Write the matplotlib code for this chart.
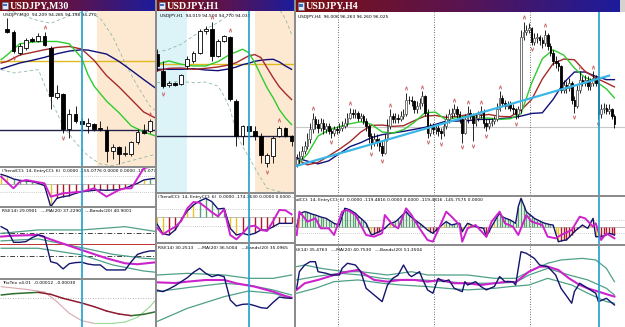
import numpy as np
import matplotlib
matplotlib.use("Agg")
import matplotlib.pyplot as plt
from matplotlib.patches import Rectangle
from matplotlib.colors import LinearSegmentedColormap

# ======================= DATA =======================
# ---- USDJPY M30 ----
m30_open = [94.824, 94.81, 94.68, 94.71, 94.764, 94.75, 94.784, 94.71, 94.416, 94.434, 94.22, 94.314,
            94.27, 94.24, 94.25, 94.23, 94.216, 94.09, 94.11, 94.07, 94.07, 94.14, 94.21, 94.21]
m30_close = [94.81, 94.69, 94.72, 94.76, 94.75, 94.784, 94.73, 94.42, 94.436, 94.22, 94.31, 94.27,
             94.25, 94.26, 94.224, 94.22, 94.09, 94.11, 94.07, 94.074, 94.14, 94.206, 94.20, 94.27]
m30_high = [94.89, 94.82, 94.74, 94.77, 94.774, 94.80, 94.81, 94.72, 94.49, 94.44, 94.34, 94.36,
            94.29, 94.29, 94.26, 94.27, 94.24, 94.13, 94.12, 94.12, 94.15, 94.22, 94.25, 94.28]
m30_low = [94.80, 94.68, 94.67, 94.70, 94.744, 94.744, 94.72, 94.34, 94.40, 94.20, 94.17, 94.26,
           94.21, 94.20, 94.21, 94.21, 94.02, 94.04, 94.01, 94.06, 94.06, 94.13, 94.19, 94.20]
m30_frac_up = [6, 23]
m30_frac_dn = [1, 9, 18]
m30_ma_x = [-1, 0, 2, 4, 6, 8, 10, 12, 13, 14, 16, 18, 20, 22, 24]
m30_ma_fast = [94.64, 94.67, 94.736, 94.746, 94.75, 94.75, 94.736, 94.65, 94.55, 94.48, 94.39, 94.32, 94.24, 94.204, 94.178]
m30_ma_mid = [94.62, 94.63, 94.668, 94.684, 94.70, 94.714, 94.72, 94.704, 94.67, 94.636, 94.544, 94.476, 94.40, 94.324, 94.286]
m30_ma_slow = [94.584, 94.596, 94.62, 94.636, 94.654, 94.676, 94.692, 94.70, 94.698, 94.69, 94.674, 94.63, 94.576, 94.52, 94.466]
m30_band_x = [-1, 1, 3, 5, 7, 9, 11, 13, 15, 17, 19, 21, 23, 24]
m30_band_up = [94.94, 94.93, 94.90, 94.876, 94.86, 94.89, 94.92, 94.93, 94.89, 94.78, 94.62, 94.48, 94.36, 94.33]
m30_band_lo = [94.58, 94.56, 94.57, 94.58, 94.40, 94.24, 94.14, 94.06, 94.01, 94.00, 94.02, 94.04, 94.06, 94.07]
m30_level_gold = 94.63
m30_level_navy = 94.214
m30_session_start = 14.5
m30_sync = 12.0
m30_cci_x = list(range(-1, 25))
m30_cci = [116, 92, 60, 44, 36, 28, 8, -20, -272, -172, -152, -140, -112, -92, -84, -76, -72, -76, -72,
           -68, -52, -20, 8, 48, 60, 68]
m30_ent_x = [-1, 1, 2, 3, 6, 7, 9, 12, 14, 16, 18, 19, 20, 22, 24]
m30_ent = [88, -52, 28, 48, 8, -152, -112, -92, -52, -152, -72, -52, -52, 188, 228]
m30_rsi_x = list(range(-1, 25))
m30_rsi = [65.1, 62.3, 51.7, 51.7, 52.3, 55.7, 58.0, 56.6, 35.1, 33.7, 28.9, 33.4, 34.3, 34.6, 33.1, 32.3,
           32.3, 28.0, 28.0, 28.0, 28.0, 35.1, 41.4, 43.1, 44.3, 44.3]
m30_rma_x = [-1, 1, 5, 8, 12, 16, 19, 21, 24]
m30_rma = [56.6, 57.4, 58.0, 52.3, 45.1, 38.0, 33.7, 32.9, 34.6]
m30_bu_x = [-1, 5, 12, 19, 24]
m30_bu = [59.4, 62.3, 62.3, 65.1, 60.9]
m30_bm_x = [-1, 5, 12, 17, 22, 24]
m30_bm = [52.9, 54.6, 47.1, 41.4, 38.0, 37.4]
m30_bl_x = [-1, 5, 12, 17, 22, 24]
m30_bl = [46.6, 46.6, 40.9, 32.3, 27.1, 26.0]
m30_trix_x = [-1, 1, 5, 7, 9, 12, 14, 16, 18, 20, 22, 24]
m30_trix = [0.00008, 0.00012, 0.00016, 0.00010, -0.00002, -0.00016, -0.00027, -0.00040, -0.00049,
            -0.00054, -0.00050, -0.00042]
m30_trix2_x = [-1, 3, 6, 8, 10, 12, 14, 17, 19, 21, 23, 24]
m30_trix2 = [0.00033, 0.00025, 0.00017, -0.00012, -0.00047, -0.00069, -0.00077, -0.00077, -0.00073,
             -0.00059, -0.00027, -0.00005]

# ---- USDJPY H1 ----
h1_open = [94.67, 94.57, 94.484, 94.50, 94.49, 94.60, 94.63, 94.68, 94.81, 94.82, 94.66, 94.75,
           94.77, 94.39, 94.18, 94.24, 94.21, 94.18, 94.02, 94.06, 94.18, 94.23, 94.18]
h1_close = [94.60, 94.48, 94.50, 94.488, 94.544, 94.64, 94.68, 94.81, 94.82, 94.66, 94.75, 94.776,
            94.40, 94.18, 94.24, 94.21, 94.18, 94.07, 94.07, 94.17, 94.23, 94.18, 94.15]
h1_high = [94.70, 94.63, 94.51, 94.506, 94.55, 94.66, 94.69, 94.82, 94.84, 94.86, 94.76, 94.784,
           94.78, 94.40, 94.25, 94.244, 94.24, 94.20, 94.08, 94.18, 94.24, 94.234, 94.19]
h1_low = [94.57, 94.47, 94.476, 94.48, 94.484, 94.58, 94.62, 94.67, 94.79, 94.63, 94.656, 94.744,
          94.39, 94.12, 94.13, 94.204, 94.16, 94.02, 94.00, 94.02, 94.176, 94.176, 94.12]
h1_frac_up = [9, 12, 20]
h1_frac_dn = [1, 18]
h1_ma_x = [0, 2, 4, 6, 8, 10, 12, 13, 14, 15, 16, 17, 18, 19, 20, 21, 22]
h1_ma_fast = [94.61, 94.63, 94.61, 94.60, 94.60, 94.626, 94.67, 94.684, 94.70, 94.68, 94.62, 94.544,
              94.47, 94.41, 94.34, 94.29, 94.25]
h1_ma_mid = [94.57, 94.586, 94.588, 94.58, 94.586, 94.594, 94.608, 94.62, 94.64, 94.66, 94.668, 94.65,
             94.59, 94.53, 94.476, 94.436, 94.40]
h1_ma_slow = [94.58, 94.58, 94.58, 94.584, 94.576, 94.572, 94.584, 94.594, 94.608, 94.616, 94.628,
              94.634, 94.638, 94.64, 94.624, 94.60, 94.58]
h1_bu_x = [0, 2, 4, 6, 8, 10, 12, 13, 14, 16, 18, 20, 21, 22]
h1_band_up = [94.68, 94.70, 94.73, 94.78, 94.82, 94.86, 94.91, 94.94, 94.97, 94.99, 94.98, 94.94, 94.88, 94.79]
h1_bl_x = [0, 2, 4, 6, 8, 10, 11, 12, 13, 14, 15, 16, 17, 18, 20, 22]
h1_band_lo = [94.50, 94.504, 94.508, 94.50, 94.504, 94.48, 94.42, 94.34, 94.20, 94.12, 94.06, 93.992,
              93.93, 93.87, 93.85, 93.84]
h1_level_gold = 94.61
h1_level_navy = 94.18
h1_asia_end = 5.0
h1_session_start = 16.0
h1_sync = 15.0
h1_cci = [-72, -196, -212, -152, -32, 76, 148, 196, 228, 188, 100, 108, -132, -212, -192, -212, -192,
          -152, -152, -112, -72, -72, -72]
h1_ent = [-120, -204, -156, -116, -44, 108, 184, 176, 120, 60, 12, 96, -212, -264, -192, -112, -100,
          -152, -164, -44, 88, 84, 36]
h1_rsi = [43.0, 42.0, 43.6, 45.6, 48.0, 50.4, 53.6, 56.0, 53.0, 51.0, 52.0, 51.0, 37.0, 33.4, 34.4,
          34.6, 33.6, 32.4, 32.0, 35.6, 38.8, 38.2, 38.0]
h1_rma_x = [0, 3, 5, 8, 11, 13, 16, 19, 21, 22]
h1_rma = [47.6, 47.2, 48.0, 49.0, 49.0, 47.0, 45.0, 42.0, 39.4, 38.4]
h1_bx = [0, 5, 11, 15, 19, 22]
h1_bu = [52.0, 53.0, 52.0, 50.0, 50.0, 52.0]
h1_bm = [42.0, 44.4, 47.0, 46.0, 43.0, 40.0]
h1_bl = [24.0, 32.0, 39.0, 42.4, 41.0, 38.0]

# ---- USDJPY H4 ----
h4_first_open = 95.05
h4_close = [95.20, 95.30, 95.45, 95.60, 95.80, 96.10, 96.40, 96.25, 96.15, 96.30,
            96.10, 96.20, 96.05, 96.00, 96.10, 96.08, 96.15, 96.20, 96.30, 96.45,
            96.60, 96.55, 96.60, 96.45, 96.50, 96.35, 96.20, 95.90, 95.70, 95.80,
            95.75, 95.60, 95.40, 95.80, 96.20, 96.50, 96.40, 96.45, 96.40, 96.50,
            96.55, 97.00, 97.00, 96.95, 96.70, 96.80, 96.90, 97.10, 96.60, 96.00,
            96.20, 96.10, 96.15, 96.05, 96.00, 96.20, 96.40, 96.55, 96.60, 96.70,
            96.55, 96.40, 96.00, 96.40, 96.60, 96.50, 96.30, 96.45, 96.55, 96.65,
            96.30, 96.20, 96.30, 96.35, 96.40, 96.70, 97.05, 96.90, 96.80, 96.85,
            96.75, 96.70, 96.55, 96.70, 98.90, 99.05, 99.10, 99.15, 98.75, 98.85,
            98.90, 98.80, 98.70, 98.95, 98.60, 98.40, 98.15, 98.10, 98.00, 97.30,
            97.45, 97.35, 97.50, 97.00, 96.80, 97.30, 97.60, 97.50, 97.60, 97.40,
            97.50, 97.65, 97.50, 96.55, 96.70, 96.75, 96.65, 96.70, 96.50, 96.25]
h4_high = [95.35, 95.45, 95.60, 95.75, 96.00, 96.30, 96.60, 96.50, 96.40, 96.45,
           96.40, 96.30, 96.30, 96.15, 96.20, 96.20, 96.30, 96.35, 96.45, 96.60,
           96.75, 96.70, 96.70, 96.65, 96.60, 96.55, 96.45, 96.25, 96.00, 96.00,
           95.95, 95.85, 95.75, 95.95, 96.40, 96.70, 96.60, 96.60, 96.55, 96.65,
           96.70, 97.20, 97.10, 97.10, 97.00, 96.95, 97.05, 97.25, 97.15, 96.70,
           96.30, 96.30, 96.25, 96.25, 96.15, 96.35, 96.55, 96.70, 96.75, 96.85,
           96.80, 96.65, 96.50, 96.55, 96.80, 96.70, 96.60, 96.55, 96.65, 96.80,
           96.70, 96.40, 96.40, 96.45, 96.50, 96.90, 97.25, 97.15, 97.00, 96.95,
           96.95, 96.85, 96.75, 96.80, 99.10, 99.35, 99.25, 99.30, 99.20, 99.00,
           99.00, 98.95, 98.90, 99.10, 99.00, 98.70, 98.50, 98.30, 98.20, 98.05,
           97.60, 97.55, 97.65, 97.55, 97.10, 97.45, 97.85, 97.70, 97.75, 97.70,
           97.65, 97.85, 97.75, 97.60, 96.85, 96.90, 96.85, 96.85, 96.75, 96.55]
h4_low = [94.95, 95.05, 95.20, 95.35, 95.50, 95.70, 96.00, 96.10, 96.00, 96.05,
          95.95, 96.00, 95.95, 95.85, 95.90, 95.95, 96.00, 96.05, 96.15, 96.20,
          96.40, 96.45, 96.45, 96.35, 96.35, 96.25, 96.05, 95.70, 95.50, 95.60,
          95.60, 95.45, 95.30, 95.35, 95.75, 96.10, 96.30, 96.30, 96.30, 96.35,
          96.40, 96.50, 96.85, 96.80, 96.60, 96.60, 96.70, 96.80, 96.50, 95.85,
          95.90, 95.95, 95.95, 95.90, 95.80, 95.90, 96.10, 96.30, 96.45, 96.50,
          96.45, 96.30, 95.70, 95.95, 96.30, 96.40, 95.75, 96.20, 96.35, 96.45,
          96.15, 96.05, 96.10, 96.20, 96.25, 96.35, 96.65, 96.80, 96.70, 96.70,
          96.65, 96.55, 96.40, 96.45, 96.60, 98.80, 98.95, 99.00, 98.65, 98.65,
          98.70, 98.65, 98.55, 98.60, 98.50, 98.30, 98.05, 97.95, 97.85, 97.20,
          97.20, 97.20, 97.25, 96.85, 96.60, 96.75, 97.20, 97.40, 97.40, 97.30,
          97.30, 97.40, 97.40, 96.40, 96.45, 96.60, 96.55, 96.55, 96.40, 96.15]
h4_frac_up = [6, 20, 35, 41, 47, 59, 64, 69, 76, 85, 93, 106, 111]
h4_frac_dn = [13, 28, 32, 49, 54, 62, 66, 71, 82, 88, 104, 113]
h4_ma_x = list(range(0, 117, 4)) + [119]
h4_ma_fast = [95.02, 95.35, 95.90, 96.08, 96.18, 96.27, 96.33, 96.25, 96.02, 95.99, 96.09, 96.31, 96.60,
              96.62, 96.38, 96.46, 96.49, 96.45, 96.44, 96.40, 96.42, 96.57, 97.50, 98.23, 98.50, 98.34,
              97.95, 97.66, 97.55, 97.32, 97.05]
h4_ma_mid = [95.19, 95.03, 95.10, 95.30, 95.50, 95.73, 96.02, 96.22, 96.23, 96.19, 96.21, 96.36, 96.50,
             96.52, 96.46, 96.49, 96.54, 96.51, 96.55, 96.49, 96.48, 96.68, 97.00, 97.62, 98.08, 98.22,
             98.20, 97.85, 97.65, 97.50, 97.38]
h4_ma_slow = [95.24, 95.14, 95.06, 95.15, 95.37, 95.58, 95.70, 95.85, 95.94, 95.99, 96.04, 96.10, 96.16,
              96.25, 96.35, 96.35, 96.36, 96.40, 96.40, 96.42, 96.45, 96.50, 96.58, 96.60, 97.00, 97.50,
              97.83, 97.83, 97.70, 97.60, 97.60]
h4_trend_x = [0, 117]
h4_trend_y = [95.00, 97.72]
h4_level_grey = 96.17
h4_week_seps = [15.5, 51.5, 87.5]
h4_sync = 113.2
h4_cci = [0, 175, 210, 225, 215, 200, 185, 175, 160, 145,
          135, 125, 100, 75, 50, 35, 25, 150, 275, 265,
          250, 225, 200, 160, 125, 90, 50, -40, -125, -110,
          -90, -75, -50, -25, 15, 50, 60, 75, 110, 150,
          190, 225, 175, 140, 110, 80, 50, 20, -15, -50,
          -75, -100, -60, -25, 10, 45, 75, 50, 25, 35,
          45, 50, -75, -10, 50, 35, 15, 0, -10, -15,
          -25, -150, -75, 0, 70, 140, 200, 150, 130, 115,
          100, 75, 50, 300, 425, 330, 225, 190, 160, 125,
          105, 85, 65, 50, 40, 30, 25, -100, -225, -215,
          -205, -200, -160, -120, -75, -40, -10, 25, 0, -25,
          50, 125, -150, -150, -150, -135, -120, -100, -110, -125]
h4_ent_x = [0, 1, 4, 7, 9, 12, 14, 17, 19, 22, 24, 26, 29, 32, 33, 36, 38, 41, 43, 46, 49, 51, 53, 56, 58,
            61, 62, 64, 67, 71, 73, 76, 78, 81, 83, 86, 88, 92, 94, 97, 99, 103, 106, 108, 111, 112, 114,
            116, 119]
h4_ent = [-125, 225, 75, 125, -25, -25, -125, 225, 250, 175, 25, -125, -150, -100, 175, 25, -25, 275,
          175, -25, -200, -225, -50, 225, 150, 25, -225, -25, 25, -150, 75, 225, 50, 0, -125, 175, 75,
          25, -150, -175, -125, -50, 150, 125, 0, 50, -200, -100, -175]
h4_rsi_x = [0, 1, 3, 5, 7, 8, 11, 13, 16, 17, 19, 22, 24, 26, 29, 32, 34, 36, 38, 40, 42, 43, 46, 47, 49,
            51, 53, 55, 57, 59, 62, 63, 64, 67, 69, 71, 74, 76, 78, 81, 82, 84, 86, 89, 91, 94, 97, 99,
            103, 104, 106, 108, 111, 112, 113, 116, 119]
h4_rsi = [46.3, 56.8, 61.0, 63.1, 63.1, 56.8, 55.8, 54.7, 54.7, 58.9, 62.1, 61.0, 56.8, 46.3, 42.1, 37.9,
          48.4, 52.6, 54.7, 61.0, 55.0, 53.7, 56.8, 52.6, 45.3, 43.2, 52.6, 50.5, 51.6, 46.3, 44.2, 50.5,
          48.4, 50.5, 47.4, 45.3, 47.4, 53.7, 50.5, 50.5, 48.4, 69.4, 68.4, 65.2, 61.0, 60.0, 54.7, 46.3,
          36.9, 44.2, 49.5, 47.4, 44.2, 43.2, 37.9, 40.0, 35.8]
h4_rma_x = [0, 3, 8, 14, 19, 23, 26, 29, 34, 39, 44, 49, 54, 59, 64, 69, 74, 79, 82, 87, 91, 94, 98, 102,
            106, 109, 113, 117, 119]
h4_rma = [45.3, 49.5, 51.6, 54.7, 56.8, 57.9, 54.7, 51.6, 50.5, 51.6, 51.6, 50.5, 51.6, 49.5, 49.5, 48.4,
          49.5, 50.5, 50.1, 56.8, 60.0, 60.0, 57.9, 52.6, 48.4, 46.3, 44.2, 42.1, 41.1]
h4_bu_x = [0, 3, 9, 18, 24, 34, 43, 49, 56, 64, 74, 82, 87, 94, 99, 107, 112, 116, 119]
h4_bu = [60.0, 61.0, 58.9, 56.8, 56.8, 54.7, 56.8, 54.7, 54.7, 54.7, 52.6, 52.6, 56.8, 62.1, 64.2, 65.2,
         64.2, 58.9, 50.5]
h4_bm_x = [0, 7, 16, 24, 32, 39, 47, 56, 64, 74, 82, 87, 94, 102, 109, 116, 119]
h4_bm = [51.6, 53.7, 55.8, 54.7, 52.6, 51.6, 51.6, 50.5, 49.5, 49.5, 50.1, 54.7, 58.9, 54.7, 51.6, 46.3, 42.1]
h4_bl_x = [0, 7, 14, 23, 32, 39, 49, 56, 64, 74, 80, 87, 94, 103, 109, 116, 119]
h4_bl = [43.2, 46.3, 50.5, 51.6, 49.5, 48.4, 47.4, 46.3, 45.3, 46.3, 47.4, 48.4, 52.6, 48.4, 43.2, 37.9, 36.9]

# ======================= STYLE / LAYOUT =======================
W, H = 625, 327
fig = plt.figure(figsize=(W / 100, H / 100), dpi=100)
fig.patch.set_facecolor('#8c8c8c')

C_FAST = '#2ecc2e'
C_MID = '#a52a2a'
C_SLOW = '#10107a'
C_SYNC = '#1e9fd0'
C_MAG = '#cc22cc'
C_NAVY = '#14146e'
C_BAND = '#4fa087'
C_PEACH = '#fde9d2'
C_CYAN = '#dcf4f8'
C_GREEN_H = '#5aa070'
C_RED_H = '#b01828'
C_YEL_H = '#e8c228'
C_FRAC = '#c85a5e'
SMALL = 3.2

title_cmap = LinearSegmentedColormap.from_list('tb', ['#7d1010', '#5a1450', '#1c1c9c'])


def pane(x0, y0, x1, y1, xlim, ylim):
    ax = fig.add_axes([x0 / W, 1 - y1 / H, (x1 - x0) / W, (y1 - y0) / H])
    ax.set_facecolor('white')
    ax.set_xlim(*xlim)
    ax.set_ylim(*ylim)
    ax.set_xticks([])
    ax.set_yticks([])
    for s in ax.spines.values():
        s.set_visible(False)
    return ax


def title_bar(x0, y0, x1, y1, text):
    ax = fig.add_axes([x0 / W, 1 - y1 / H, (x1 - x0) / W, (y1 - y0) / H])
    ax.imshow(np.linspace(0, 1, 256)[None, :], cmap=title_cmap, aspect='auto', extent=(0, 1, 0, 1))
    ax.set_xlim(0, 1)
    ax.set_ylim(0, 1)
    ax.axis('off')
    w = x1 - x0
    ax.add_patch(Rectangle((2 / w, 0.18), 6 / w, 0.64, facecolor='#dfe8f5', edgecolor='#6070a0', lw=0.4))
    ax.add_patch(Rectangle((3 / w, 0.45), 4 / w, 0.2, facecolor='#3a70c0', lw=0))
    ax.text(10 / w, 0.47, text, color='white', fontsize=7.2, fontweight='bold',
            family='Liberation Serif', va='center', ha='left')
    return ax


def candles(ax, o, h, l, c, width, up_edge='black'):
    for i, (oi, hi, li, ci) in enumerate(zip(o, h, l, c)):
        ax.plot([i, i], [li, hi], color='black', lw=0.6, zorder=3, solid_capstyle='butt')
        lo_, top = min(oi, ci), max(oi, ci)
        up = ci > oi
        ax.add_patch(Rectangle((i - width / 2, lo_), width, max(top - lo_, 1e-6),
                               facecolor='white' if up else 'black',
                               edgecolor=up_edge if up else 'black', lw=0.6, zorder=4))


def fractals(ax, h, l, ups, dns, off):
    ax.scatter(ups, [h[i] + off for i in ups], marker=r'$\wedge$', s=6, color=C_FRAC,
               linewidths=0.2, zorder=6)
    ax.scatter(dns, [l[i] - off for i in dns], marker=r'$\vee$', s=6, color=C_FRAC,
               linewidths=0.2, zorder=6)


def woodie_colors(vals):
    cols, run, prev = [], 0, None
    for v in vals:
        s = v >= 0
        run = run + 1 if s == prev else 1
        prev = s
        cols.append(C_YEL_H if run <= 2 else (C_GREEN_H if s else C_RED_H))
    return cols


def cci_pane(ax, x, vals, ex, ev, header, hx):
    ax.axhline(0, color='#a0a0a0', lw=0.5)
    for lv in (100, -100):
        ax.axhline(lv, color='#9a9a9a', lw=0.5, ls=(0, (1, 2)))
    ax.vlines(x, 0, vals, colors=woodie_colors(vals), lw=1.0, zorder=2)
    ax.plot(x, vals, color=C_NAVY, lw=1.0, zorder=3)
    ax.plot(ex, ev, color=C_MAG, lw=1.4, zorder=4)
    ax.text(hx, 0.97, header, transform=ax.transAxes, fontsize=SMALL, va='top', ha='left', clip_on=True)


def rsi_pane(ax, x, r, mx, m, bands, header, hx, levels=None):
    if levels:
        for lv, col, ls in levels:
            ax.axhline(lv, color=col, lw=0.7, ls=ls)
    for bx, bv in bands:
        ax.plot(bx, bv, color=C_BAND, lw=0.9, zorder=2)
    ax.plot(mx, m, color=C_MAG, lw=1.5, zorder=3)
    ax.plot(x, r, color=C_NAVY, lw=1.0, zorder=4)
    ax.text(hx, 0.98, header, transform=ax.transAxes, fontsize=SMALL, va='top', ha='left', clip_on=True)


def slope_line(ax, x, y, up_col, dn_col, lw):
    for i in range(len(x) - 1):
        col = up_col if y[i + 1] >= y[i] else dn_col
        ax.plot(x[i:i + 2], y[i:i + 2], color=col, lw=lw, solid_capstyle='round')


# ======================= WINDOW 1 : M30 =======================
m30_xlim = (-1.18, 23.82)
title_bar(0, 0, 155, 11, 'USDJPY,M30')
ax = pane(0, 11, 155, 166, m30_xlim, (93.998, 94.934))
ax.axvspan(m30_session_start, m30_xlim[1], color=C_PEACH, lw=0, zorder=0)
ax.axhline(m30_level_gold, color='#e0b820', lw=1.0, zorder=1)
ax.axhline(m30_level_navy, color='#22224a', lw=1.0, zorder=1)
ax.plot(m30_band_x, m30_band_up, color='#8fb8a8', lw=0.6, ls=(0, (4, 3)), zorder=1)
ax.plot(m30_band_x, m30_band_lo, color='#8fb8a8', lw=0.6, ls=(0, (4, 3)), zorder=1)
ax.plot(m30_ma_x, m30_ma_slow, color=C_SLOW, lw=1.0, zorder=2)
ax.plot(m30_ma_x, m30_ma_mid, color=C_MID, lw=1.0, zorder=2)
ax.plot(m30_ma_x, m30_ma_fast, color=C_FAST, lw=1.0, zorder=2)
candles(ax, m30_open, m30_high, m30_low, m30_close, 0.62)
fractals(ax, m30_high, m30_low, m30_frac_up, m30_frac_dn, 0.03)
ax.axvline(m30_sync, color=C_SYNC, lw=1.2, zorder=7)
ax.text(0.02, 0.985, 'USDJPY,M30  94.209 94.285 94.198 94.270', transform=ax.transAxes,
        fontsize=SMALL, va='top')

ax = pane(0, 168, 155, 206, m30_xlim, (-264, 192))
cci_pane(ax, m30_cci_x, m30_cci, m30_ent_x, m30_ent,
         '(TrendCCI: 14, EntryCCI: 6)  0.0000 -155.0776 0.0000 0.0000 -155.0776 -126.8912 0.0000', 0.01)
ax.axvline(m30_sync, color=C_SYNC, lw=1.2, zorder=7)

ax = pane(0, 208, 155, 278, m30_xlim, (21.1, 81.1))
rsi_pane(ax, m30_rsi_x, m30_rsi, m30_rma_x, m30_rma,
         [(m30_bu_x, m30_bu), (m30_bm_x, m30_bm), (m30_bl_x, m30_bl)],
         'RSI(14) 29.0901   ---MA(20) 37.2290   ---Bands(20) 40.9001', 0.01,
         levels=[(50, '#c03030', '-'), (60, '#404040', (0, (5, 2, 1, 2))), (40, '#404040', (0, (5, 2, 1, 2)))])
ax.axvline(m30_sync, color=C_SYNC, lw=1.2, zorder=7)

ax = pane(0, 280, 155, 327, m30_xlim, (-0.00088, 0.00053))
ax.axhline(0, color='#a0a0a0', lw=0.6, ls=(0, (1, 2)))
slope_line(ax, m30_trix2_x, m30_trix2, '#98d898', '#d8a8b0', 0.8)
slope_line(ax, m30_trix_x, m30_trix, '#2e6e2e', '#8e1a2e', 1.1)
ax.text(0.01, 0.97, 'TrixTrix v4.01  -0.00012  -0.00030', transform=ax.transAxes, fontsize=SMALL, va='top')
ax.axvline(m30_sync, color=C_SYNC, lw=1.2, zorder=7)

# ======================= WINDOW 2 : H1 =======================
h1_xlim = (0.05, 22.4)
title_bar(157, 0, 294, 11, 'USDJPY,H1')
ax = pane(157, 11, 294, 192, h1_xlim, (93.848, 94.928))
ax.axvspan(h1_xlim[0], h1_asia_end, color=C_CYAN, lw=0, zorder=0)
ax.axvspan(h1_session_start, h1_xlim[1], color=C_PEACH, lw=0, zorder=0)
ax.axhline(h1_level_gold, color='#e0b820', lw=1.0, zorder=1)
ax.axhline(h1_level_navy, color='#22224a', lw=1.0, zorder=1)
ax.plot(h1_bu_x, h1_band_up, color='#8fb8a8', lw=0.6, ls=(0, (4, 3)), zorder=1)
ax.plot(h1_bl_x, h1_band_lo, color='#8fb8a8', lw=0.6, ls=(0, (4, 3)), zorder=1)
ax.plot(h1_ma_x, h1_ma_slow, color=C_SLOW, lw=1.0, zorder=2)
ax.plot(h1_ma_x, h1_ma_mid, color=C_MID, lw=1.0, zorder=2)
ax.plot(h1_ma_x, h1_ma_fast, color=C_FAST, lw=1.0, zorder=2)
candles(ax, h1_open, h1_high, h1_low, h1_close, 0.62)
fractals(ax, h1_high, h1_low, h1_frac_up, h1_frac_dn, 0.035)
ax.axvline(h1_sync, color=C_SYNC, lw=1.2, zorder=7)
ax.text(0.02, 0.985, 'USDJPY,H1  94.019 94.500 94.770 94.035', transform=ax.transAxes,
        fontsize=SMALL, va='top')

h1_x = list(range(len(h1_cci)))
ax = pane(157, 194, 294, 242, h1_xlim, (-296, 280))
cci_pane(ax, h1_x, h1_cci, h1_x, h1_ent,
         '(TrendCCI: 14, EntryCCI: 6)  0.0000 -174.3630 0.0000 0.0000 -174.3630 -116.3640', 0.01)
ax.axvline(h1_sync, color=C_SYNC, lw=1.2, zorder=7)

ax = pane(157, 244, 294, 327, h1_xlim, (20.8, 70.6))
rsi_pane(ax, h1_x, h1_rsi, h1_rma_x, h1_rma, [(h1_bx, h1_bu), (h1_bx, h1_bm), (h1_bx, h1_bl)],
         'RSI(14) 30.2513   ---MA(20) 36.5004   ---Bands(20) 35.0965', 0.01)
ax.axvline(h1_sync, color=C_SYNC, lw=1.2, zorder=7)

# ======================= WINDOW 3 : H4 =======================
h4_open = [h4_first_open] + h4_close[:-1]
h4_xlim = (-0.26, 122.96)
title_bar(296, 0, 620, 12, 'USDJPY,H4')
tb = fig.add_axes([620 / W, 1 - 12 / H, 5 / W, 12 / H])
tb.set_facecolor('#d6d3ce')
tb.set_xticks([]); tb.set_yticks([])
for s in tb.spines.values():
    s.set_visible(False)

ax = pane(296, 12, 625, 195, h4_xlim, (94.12, 99.64))
ax.axhline(h4_level_grey, color='#c8c8c8', lw=0.8, zorder=1)
for sx in h4_week_seps:
    ax.axvline(sx, color='#404040', lw=0.6, ls=(0, (1, 2)), zorder=1)
ax.plot(h4_ma_x, h4_ma_slow, color=C_SLOW, lw=1.0, zorder=2)
ax.plot(h4_ma_x, h4_ma_mid, color=C_MID, lw=1.0, zorder=2)
ax.plot(h4_ma_x, h4_ma_fast, color=C_FAST, lw=1.0, zorder=2)
candles(ax, h4_open, h4_high, h4_low, h4_close, 0.62, up_edge='#606060')
ax.plot(h4_trend_x, h4_trend_y, color='#3cb6e6', lw=1.6, zorder=5)
fractals(ax, h4_high, h4_low, h4_frac_up, h4_frac_dn, 0.14)
ax.axvline(h4_sync, color=C_SYNC, lw=1.2, zorder=7)
ax.text(0.005, 0.985, 'USDJPY,H4  96.006 96.263 96.260 96.025', transform=ax.transAxes,
        fontsize=SMALL, va='top')

h4_x = list(range(len(h4_cci)))
ax = pane(296, 197, 625, 244, h4_xlim, (-260, 445))
for sx in h4_week_seps:
    ax.axvline(sx, color='#404040', lw=0.6, ls=(0, (1, 2)), zorder=1)
cci_pane(ax, h4_x, h4_cci, h4_ent_x, h4_ent,
         '(TrendCCI: 14, EntryCCI: 6)  0.0000 -119.4816 0.0000 0.0000 -119.4816 -145.7575 0.0000', -0.03)
ax.axvline(h4_sync, color=C_SYNC, lw=1.2, zorder=7)

ax = pane(296, 246, 625, 327, h4_xlim, (21.9, 73.0))
for sx in h4_week_seps:
    ax.axvline(sx, color='#404040', lw=0.6, ls=(0, (1, 2)), zorder=1)
rsi_pane(ax, h4_rsi_x, h4_rsi, h4_rma_x, h4_rma,
         [(h4_bu_x, h4_bu), (h4_bm_x, h4_bm), (h4_bl_x, h4_bl)],
         'RSI(14) 35.4763   ---MA(20) 40.7530   ---Bands(20) 51.3504', -0.012)
ax.axvline(h4_sync, color=C_SYNC, lw=1.2, zorder=7)

fig.savefig('out.png', dpi=100, facecolor=fig.get_facecolor())
